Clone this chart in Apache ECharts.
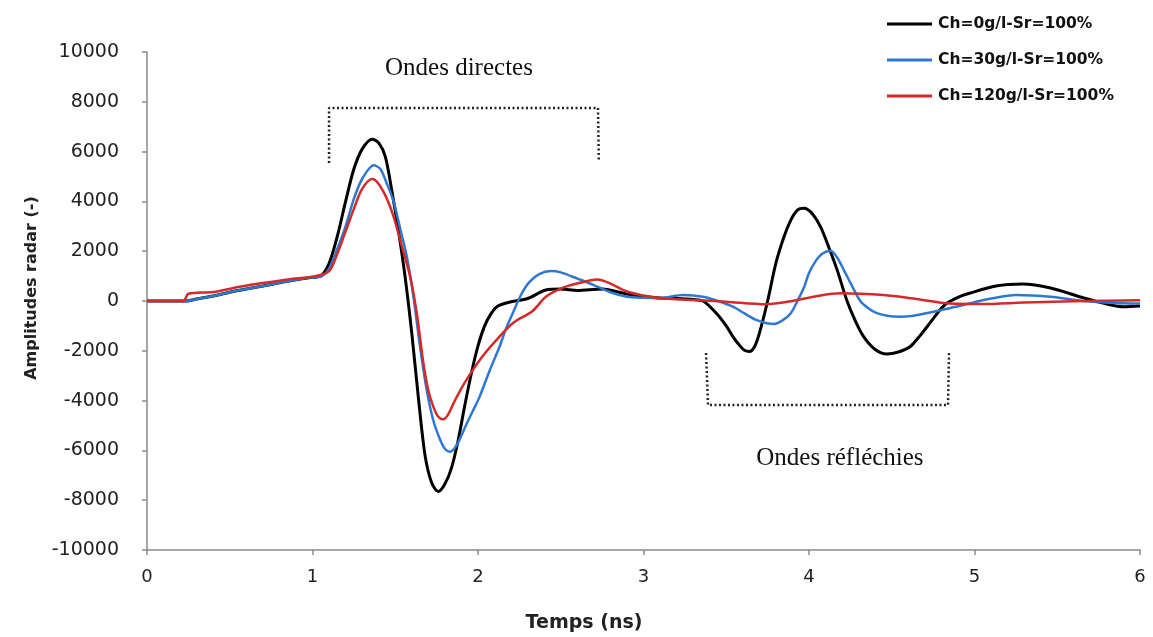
<!DOCTYPE html>
<html>
<head>
<meta charset="utf-8">
<script src="https://cdn.jsdelivr.net/npm/echarts@6/dist/echarts.min.js"></script>
<style>html,body{margin:0;padding:0;background:#fff}#c{width:1153px;height:637px}</style>
</head>
<body>
<div id="c"></div>
<script>
var seriesNames = ['Ch=0g/l-Sr=100%', 'Ch=30g/l-Sr=100%', 'Ch=120g/l-Sr=100%'];
var xTicks = [0, 1, 2, 3, 4, 5, 6];
var yTicks = [-10000, -8000, -6000, -4000, -2000, 0, 2000, 4000, 6000, 8000, 10000];

var blackT = [0, 0.24, 0.3, 0.4, 0.5, 0.6, 0.7, 0.8, 0.9, 1.0, 1.05, 1.1, 1.15, 1.2, 1.25, 1.3, 1.36, 1.40, 1.44, 1.48, 1.52, 1.56, 1.60, 1.64, 1.68, 1.72, 1.76, 1.80, 1.84, 1.88, 1.92, 1.96, 2.00, 2.04, 2.08, 2.12, 2.2, 2.3, 2.41, 2.5, 2.6, 2.75, 2.9, 3.0, 3.1, 3.2, 3.3, 3.36, 3.44, 3.5, 3.54, 3.58, 3.61, 3.64, 3.67, 3.7, 3.75, 3.8, 3.85, 3.89, 3.93, 3.97, 4.02, 4.07, 4.12, 4.17, 4.23, 4.28, 4.33, 4.4, 4.47, 4.54, 4.61, 4.67, 4.73, 4.78, 4.83, 4.9, 4.97, 5.13, 5.29, 5.46, 5.66, 5.8, 5.9, 6.0];
var blackA = [0, 0, 80, 200, 350, 480, 600, 730, 850, 950, 1000, 1500, 2600, 4000, 5300, 6100, 6500, 6350, 5800, 4400, 2800, 950, -1300, -3900, -6200, -7300, -7650, -7350, -6700, -5600, -4200, -2900, -1800, -1000, -500, -200, -30, 100, 440, 480, 420, 480, 280, 180, 120, 100, 60, 0, -490, -1000, -1430, -1780, -1980, -2030, -1850, -1300, 0, 1520, 2600, 3250, 3650, 3720, 3500, 2980, 2150, 1250, 0, -800, -1430, -1950, -2130, -2050, -1840, -1400, -890, -450, -100, 150, 310, 600, 680, 520, 120, -120, -230, -200];

var blueT = [0, 0.24, 0.3, 0.4, 0.5, 0.6, 0.7, 0.8, 0.9, 1.0, 1.05, 1.1, 1.15, 1.2, 1.25, 1.3, 1.37, 1.41, 1.45, 1.49, 1.53, 1.57, 1.61, 1.65, 1.69, 1.73, 1.77, 1.80, 1.83, 1.86, 1.89, 1.93, 1.97, 2.01, 2.07, 2.13, 2.17, 2.21, 2.26, 2.31, 2.37, 2.44, 2.5, 2.6, 2.7, 2.8, 2.9, 3.0, 3.1, 3.24, 3.36, 3.45, 3.54, 3.61, 3.68, 3.74, 3.79, 3.84, 3.89, 3.93, 3.97, 4.0, 4.04, 4.08, 4.13, 4.17, 4.21, 4.26, 4.31, 4.36, 4.41, 4.48, 4.55, 4.62, 4.7, 4.85, 5.0, 5.1, 5.25, 5.46, 5.66, 5.85, 6.0];
var blueA = [0, 0, 80, 200, 350, 480, 600, 730, 850, 950, 980, 1300, 2100, 3000, 4100, 4900, 5450, 5300, 4700, 4000, 2900, 1780, 170, -1840, -3570, -4800, -5550, -5930, -6050, -5900, -5550, -4950, -4400, -3840, -2800, -1840, -1100, -490, 250, 760, 1080, 1200, 1150, 900, 640, 350, 170, 130, 120, 240, 170, 0, -230, -500, -760, -880, -920, -780, -490, 0, 550, 1120, 1600, 1900, 2020, 1750, 1250, 600, 0, -300, -490, -600, -630, -600, -500, -290, -50, 100, 240, 170, 0, -80, -100];

var redT = [0, 0.22, 0.25, 0.4, 0.56, 0.7, 0.86, 1.02, 1.1, 1.15, 1.2, 1.25, 1.3, 1.36, 1.40, 1.45, 1.49, 1.54, 1.59, 1.63, 1.67, 1.70, 1.73, 1.76, 1.79, 1.82, 1.86, 1.93, 2.03, 2.13, 2.21, 2.33, 2.41, 2.5, 2.6, 2.72, 2.8, 2.9, 3.0, 3.1, 3.3, 3.5, 3.74, 3.9, 4.05, 4.19, 4.45, 4.65, 4.85, 5.05, 5.3, 5.66, 6.0];
var redA = [0, 0, 290, 360, 570, 720, 870, 1000, 1200, 1900, 2800, 3700, 4500, 4900, 4700, 4100, 3390, 2200, 980, -490, -2500, -3600, -4240, -4650, -4750, -4550, -4000, -3170, -2200, -1430, -890, -400, 170, 500, 700, 860, 700, 380, 220, 110, 40, -30, -130, 0, 200, 310, 240, 80, -100, -120, -60, 0, 30];

var directBracketT = [1.10, 1.10, 2.725, 2.73];
var directBracketA = [5540, 7750, 7750, 5620];
var reflectBracketT = [3.378, 3.39, 4.84, 4.846];
var reflectBracketA = [-2090, -4180, -4180, -2090];

var annotations = [
  {text: 'Ondes directes', t: 1.885, a: 9357},
  {text: 'Ondes réfléchies', t: 4.187, a: -6305}
];
var xTitle = 'Temps (ns)';
var yTitle = 'Amplitudes radar (-)';

function zip(t, a) { return t.map(function (v, i) { return [v, a[i]]; }); }

var chart = echarts.init(document.getElementById('c'), null, {renderer: 'canvas'});
var colors = ['#000000', '#2f78d2', '#d42a2a'];
var widths = [3, 2.5, 2.5];
var datasets = [zip(blackT, blackA), zip(blueT, blueA), zip(redT, redA)];

var series = datasets.map(function (d, i) {
  return {
    name: seriesNames[i], type: 'line', data: d, smooth: 0.3,
    showSymbol: false, symbol: 'none', lineStyle: {color: colors[i], width: widths[i]},
    itemStyle: {color: colors[i]}, z: 3 + i, animation: false
  };
});
[[directBracketT, directBracketA], [reflectBracketT, reflectBracketA]].forEach(function (b) {
  series.push({
    type: 'line', data: zip(b[0], b[1]), showSymbol: false, symbol: 'none', silent: true,
    lineStyle: {color: '#222', width: 2.5, type: [2, 2.5]}, z: 2, animation: false
  });
});

var axisLbl = {fontFamily: 'DejaVu Sans', fontSize: 18, color: '#222'};
chart.setOption({
  animation: false,
  grid: {left: 147, right: 13, top: 52, bottom: 87, containLabel: false},
  legend: {
    data: seriesNames, orient: 'vertical', left: 887, top: 15, itemWidth: 45, itemHeight: 3,
    itemGap: 18, icon: 'rect', padding: 0,
    textStyle: {fontFamily: 'DejaVu Sans', fontWeight: 'bold', fontSize: 15.5, color: '#111', lineHeight: 18, padding: [0, 0, 0, 1]}
  },
  xAxis: {
    type: 'value', min: 0, max: 6, interval: 1,
    axisLine: {show: true, onZero: false, lineStyle: {color: '#8a8a8a', width: 1.5}},
    axisTick: {show: true, length: 5, lineStyle: {color: '#8a8a8a', width: 1.5}},
    splitLine: {show: false},
    axisLabel: Object.assign({margin: 18, formatter: function (v) { return xTicks.indexOf(v) >= 0 ? String(v) : ''; }}, axisLbl)
  },
  yAxis: {
    type: 'value', min: -10000, max: 10000, interval: 2000,
    axisLine: {show: true, onZero: false, lineStyle: {color: '#8a8a8a', width: 1.5}},
    axisTick: {show: true, length: 5, lineStyle: {color: '#8a8a8a', width: 1.5}},
    splitLine: {show: false},
    axisLabel: Object.assign({margin: 28, formatter: function (v) { return yTicks.indexOf(v) >= 0 ? String(v) : ''; }}, axisLbl, {fontSize: 19})
  },
  series: series
});

var graphics = annotations.map(function (a) {
  var p = chart.convertToPixel({gridIndex: 0}, [a.t, a.a]);
  return {
    type: 'text', x: p[0], y: p[1], silent: true,
    style: {text: a.text, fontFamily: 'Liberation Serif', fontSize: 25, fill: '#111', align: 'center', verticalAlign: 'middle'}
  };
});
graphics.push({
  type: 'text', x: 584, y: 623, silent: true,
  style: {text: xTitle, fontFamily: 'DejaVu Sans', fontWeight: 'bold', fontSize: 19, fill: '#222', align: 'center', verticalAlign: 'middle'}
});
graphics.push({
  type: 'text', x: 32, y: 288, rotation: Math.PI / 2, silent: true,
  style: {text: yTitle, fontFamily: 'DejaVu Sans', fontWeight: 'bold', fontSize: 16, fill: '#222', align: 'center', verticalAlign: 'middle'}
});
chart.setOption({graphic: graphics});
</script>
</body>
</html>
